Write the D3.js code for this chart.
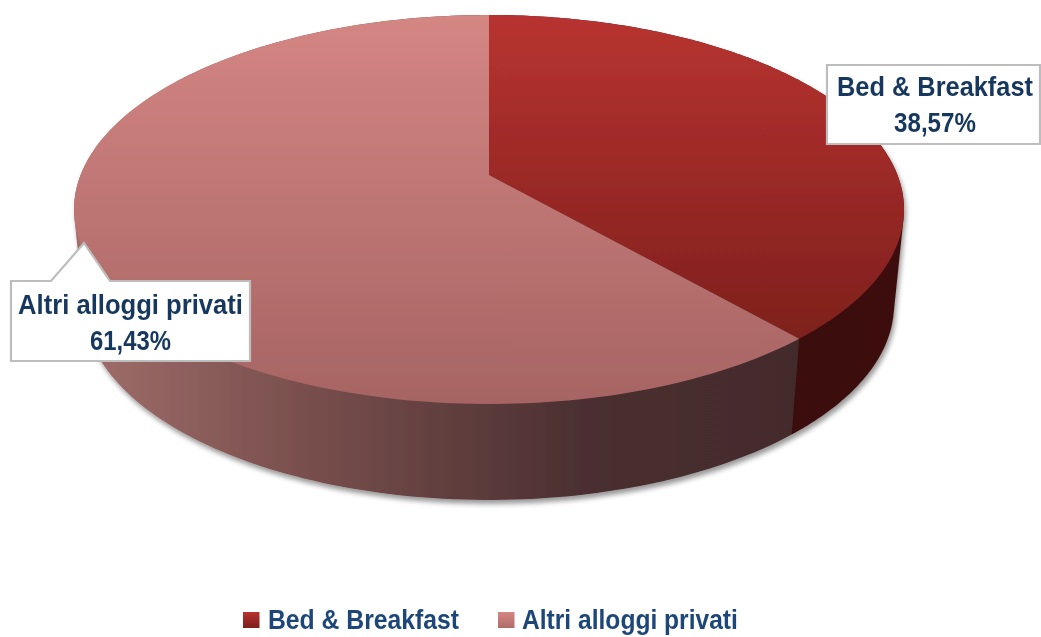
<!DOCTYPE html>
<html><head><meta charset="utf-8">
<script src="https://cdn.jsdelivr.net/npm/d3@7/dist/d3.min.js"></script>
<style>html,body{margin:0;background:#fff}svg{display:block}
text{font-family:"Liberation Sans",Arial,sans-serif;font-weight:700;fill:#17375e;font-size:28px}
.lg text{fill:#1f4678}</style>
</head><body><svg id="c" width="1041" height="637"></svg>
<script>
const categories = ["Bed & Breakfast", "Altri alloggi privati"];
const values = [38.57, 61.43];
const valueLabels = ["38,57%", "61,43%"];

const svg = d3.select("#c");
const defs = svg.append("defs");
function grad(id, stops, horizontal, units) {
  const g = defs.append("linearGradient").attr("id", id).attr("gradientUnits", "userSpaceOnUse");
  if (horizontal) g.attr("x1", units[0]).attr("x2", units[1]).attr("y1", 0).attr("y2", 0);
  else g.attr("x1", 0).attr("x2", 0).attr("y1", units[0]).attr("y2", units[1]);
  stops.forEach(s => g.append("stop").attr("offset", s[0]).attr("stop-color", s[1]));
}
grad("top0", [[0, "#b83330"], [1, "#7d1f1c"]], false, [15, 345]);
grad("top1", [[0, "#d48683"], [1, "#a66463"]], false, [15, 404]);
grad("side0", [[0, "#3a0e0c"], [1, "#3c100d"]], true, [790, 905]);
grad("side1", [[0, "#a06e6b"], [0.3, "#7a504e"], [0.7, "#4b2f30"], [1, "#432b2c"]], true, [80, 800]);
grad("sw0", [[0, "#b83330"], [1, "#7d1f1c"]], false, [612, 628]);
grad("sw1", [[0, "#d48683"], [1, "#b06b6a"]], false, [612, 628]);
const sh = defs.append("filter").attr("id", "shadow").attr("x", "-5%").attr("y", "-5%").attr("width", "110%").attr("height", "115%");
sh.append("feDropShadow").attr("dx", 2).attr("dy", 4).attr("stdDeviation", 2.5).attr("flood-color", "#000").attr("flood-opacity", 0.4);
const soft = defs.append("filter").attr("id", "soft").attr("x", "-2%").attr("y", "-8%").attr("width", "104%").attr("height", "116%");
soft.append("feGaussianBlur").attr("stdDeviation", 0.5);

// perspective mapping of a circle to an ellipse: the circle's centre lands above the ellipse's centre
const topE = {cx: 489, cy: 209.5, rx: 415, ry: 194.5};
const botE = {cx: 489, cy: 305, rx: 405, ry: 195};
const Y0 = (175 - topE.cy) / topE.ry;
function project(e, a) {
  const u = Math.sin(a), v = -Math.cos(a), d = 1 + v * Y0;
  return [e.cx + e.rx * u * Math.sqrt(1 - Y0 * Y0) / d, e.cy + e.ry * (v + Y0) / d];
}
const apex = [topE.cx, topE.cy + topE.ry * Y0];
const arcs = d3.pie().sort(null)(values);
const line = d3.line();
function samples(s) { return d3.range(0, 181).map(i => s.startAngle + (s.endAngle - s.startAngle) * i / 180); }

const body = svg.append("g").attr("filter", "url(#soft)");
const sides = body.append("g").attr("filter", "url(#shadow)");
sides.selectAll("path").data(arcs).join("path")
  .attr("d", s => {
    const as = samples(s);
    return line(d3.polygonHull(as.map(a => project(topE, a)).concat(as.map(a => project(botE, a))))) + "Z";
  })
  .attr("fill", s => `url(#side${s.index})`);
body.append("g").selectAll("path").data(arcs).join("path")
  .attr("d", s => line([apex].concat(samples(s).map(a => project(topE, a)))) + "Z")
  .attr("fill", s => `url(#top${s.index})`);

// text squeezed horizontally to the reference's condensed look
function squeezed(parent, str, x, y, width, anchor) {
  const t = parent.append("text").attr("text-anchor", anchor).text(str);
  const k = width / t.node().getComputedTextLength();
  t.attr("transform", `translate(${x},${y}) scale(${k},1)`);
  return t;
}

// callouts
const calloutShapes = [
  "M827,65H1040V144H827Z",
  "M11,281H51L84,243L110,281H250V361H11Z"
];
const calloutText = [[935, 96, 132], [130.5, 314, 350]];
const nameWidth = [196, 225];
const valueWidth = [82, 81];
const labels = svg.append("g").attr("filter", "url(#soft)");
labels.selectAll("path").data(calloutShapes).join("path").attr("d", d => d)
  .attr("fill", "#fff").attr("stroke", "#bdbdbd").attr("stroke-width", 2.2);
categories.forEach((c, i) => {
  squeezed(labels, c, calloutText[i][0], calloutText[i][1], nameWidth[i], "middle");
  squeezed(labels, valueLabels[i], calloutText[i][0], calloutText[i][2], valueWidth[i], "middle");
});

// legend
const legendX = [[243, 268], [498, 522]];
const legendWidth = [191, 216];
const legend = svg.append("g").attr("class", "lg").attr("filter", "url(#soft)");
categories.forEach((c, i) => {
  legend.append("rect").attr("x", legendX[i][0]).attr("y", 612).attr("width", 16.5).attr("height", 16).attr("fill", `url(#sw${i})`);
  squeezed(legend, c, legendX[i][1], 629, legendWidth[i], "start");
});
</script></body></html>
